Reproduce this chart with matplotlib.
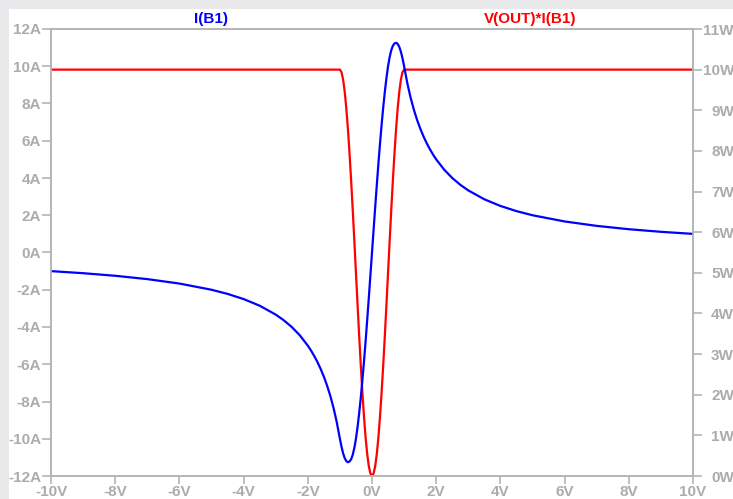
import matplotlib
matplotlib.use('Agg')
import matplotlib.pyplot as plt
from matplotlib.patches import Rectangle

# ---- data ----
voltage = [-10, -9, -8, -7, -6, -5, -4.5, -4, -3.5, -3, -2.75, -2.5, -2.25, -2, -1.9, -1.8,
           -1.7, -1.6, -1.5, -1.4, -1.3, -1.2, -1.1, -1.0, -0.95, -0.9, -0.85, -0.8, -0.75,
           -0.7, -0.65, -0.6, -0.55, -0.5, -0.45, -0.4, -0.35, -0.3, -0.25, -0.2, -0.15,
           -0.1, -0.05, 0.0, 0.05, 0.1, 0.15, 0.2, 0.25, 0.3, 0.35, 0.4, 0.45, 0.5, 0.55,
           0.6, 0.65, 0.7, 0.75, 0.8, 0.85, 0.9, 0.95, 1.0, 1.1, 1.2, 1.3, 1.4, 1.5, 1.6,
           1.7, 1.8, 1.9, 2, 2.25, 2.5, 2.75, 3, 3.5, 4, 4.5, 5, 6, 7, 8, 9, 10]

current_b1 = [-1.0, -1.111, -1.25, -1.429, -1.667, -2.0, -2.222, -2.5, -2.857, -3.333,
              -3.636, -4.0, -4.444, -5.0, -5.263, -5.556, -5.882, -6.25, -6.667, -7.143,
              -7.692, -8.333, -9.091, -10.0, -10.43, -10.78, -11.04, -11.20, -11.26, -11.22,
              -11.10, -10.86, -10.49, -10.0, -9.37, -8.63, -7.80, -6.87, -5.86, -4.78,
              -3.63, -2.45, -1.23, 0.0, 1.23, 2.45, 3.63, 4.78, 5.86, 6.87, 7.80, 8.63,
              9.37, 10.0, 10.49, 10.86, 11.10, 11.22, 11.26, 11.20, 11.04, 10.78, 10.43,
              10.0, 9.091, 8.333, 7.692, 7.143, 6.667, 6.25, 5.882, 5.556, 5.263, 5.0,
              4.444, 4.0, 3.636, 3.333, 2.857, 2.5, 2.222, 2.0, 1.667, 1.429, 1.25, 1.111,
              1.0]

power_b1 = [10, 10, 10, 10, 10, 10, 10, 10, 10, 10, 10, 10, 10, 10, 10, 10, 10, 10, 10,
            10, 10, 10, 10, 10.0, 9.938, 9.755, 9.455, 9.045, 8.536, 7.939, 7.270, 6.545,
            5.782, 5.0, 4.218, 3.455, 2.730, 2.061, 1.464, 0.955, 0.545, 0.245, 0.062,
            0.0, 0.062, 0.245, 0.545, 0.955, 1.464, 2.061, 2.730, 3.455, 4.218, 5.0,
            5.782, 6.545, 7.270, 7.939, 8.536, 9.045, 9.455, 9.755, 9.938, 10.0,
            10, 10, 10, 10, 10, 10, 10, 10, 10, 10, 10, 10, 10, 10, 10, 10, 10, 10, 10,
            10, 10, 10, 10]

x_ticks = [-10, -8, -6, -4, -2, 0, 2, 4, 6, 8, 10]
x_labels = ['-10V', '-8V', '-6V', '-4V', '-2V', '0V', '2V', '4V', '6V', '8V', '10V']
left_ticks = [-12, -10, -8, -6, -4, -2, 0, 2, 4, 6, 8, 10, 12]
left_labels = ['-12A', '-10A', '-8A', '-6A', '-4A', '-2A', '0A', '2A', '4A', '6A', '8A', '10A', '12A']
right_ticks = [0, 1, 2, 3, 4, 5, 6, 7, 8, 9, 10, 11]
right_labels = ['0W', '1W', '2W', '3W', '4W', '5W', '6W', '7W', '8W', '9W', '10W', '11W']

title_left = 'I(B1)'
title_right = 'V(OUT)*I(B1)'

# ---- styling ----
W, H = 733, 499
GRAY_TXT = '#acacac'
GRAY_AX = '#b4b4b4'
FONT = 'Liberation Sans'

fig = plt.figure(figsize=(W / 100, H / 100), dpi=100, facecolor='white')

# light gray frame strips (left and top)
fig.patches.append(Rectangle((0, 0), 8.5 / W, 1, transform=fig.transFigure,
                             facecolor='#e9e9ec', edgecolor='none', zorder=-10))
fig.patches.append(Rectangle((0, 1 - 9 / H), 1, 9 / H, transform=fig.transFigure,
                             facecolor='#e9e9ec', edgecolor='none', zorder=-10))

left, right, top, bottom = 51, 693, 29, 476
ax = fig.add_axes([left / W, 1 - bottom / H, (right - left) / W, (bottom - top) / H])
ax2 = ax.twinx()

ax.plot(voltage, current_b1, color='#0000ff', lw=1.6, solid_joinstyle='round')
ax2.plot(voltage, power_b1, color='#ff0000', lw=1.6, solid_joinstyle='round')

ax.set_zorder(ax2.get_zorder() + 1)
ax.patch.set_visible(False)

ax.set_xlim(-10, 10)
ax.set_ylim(-12, 12)
ax2.set_ylim(0, 11)

for a in (ax, ax2):
    for s in a.spines.values():
        s.set_color(GRAY_AX)
        s.set_linewidth(1.2)

ax.set_xticks(x_ticks)
ax.set_xticklabels(x_labels)
ax.set_yticks(left_ticks)
ax.set_yticklabels(left_labels)
ax2.set_yticks(right_ticks)
ax2.set_yticklabels(right_labels)

ax.tick_params(axis='x', direction='out', length=5.5, width=1.2, color=GRAY_AX,
               pad=1, labelsize=11, labelcolor=GRAY_TXT)
ax.tick_params(axis='y', direction='out', length=6.5, width=1.2, color=GRAY_AX,
               pad=0.5, labelsize=11, labelcolor=GRAY_TXT)
ax2.tick_params(axis='y', direction='out', length=6.5, width=1.2, color=GRAY_AX,
                pad=23.0, labelsize=11, labelcolor=GRAY_TXT)

for lab in ax.get_xticklabels() + ax.get_yticklabels():
    lab.set_fontfamily(FONT)
    lab.set_fontweight('bold')
for lab in ax2.get_yticklabels():
    lab.set_fontfamily(FONT)
    lab.set_fontweight('bold')
    lab.set_horizontalalignment('right')

fig.text(211 / W, 1 - 18.5 / H, title_left, color='#0000ff', fontsize=11,
         fontweight='bold', family=FONT, ha='center', va='center')
fig.text(530.5 / W, 1 - 18.5 / H, title_right, color='#ff0000', fontsize=11,
         fontweight='bold', family=FONT, ha='center', va='center')

fig.savefig('out.png', dpi=100, facecolor='white')
